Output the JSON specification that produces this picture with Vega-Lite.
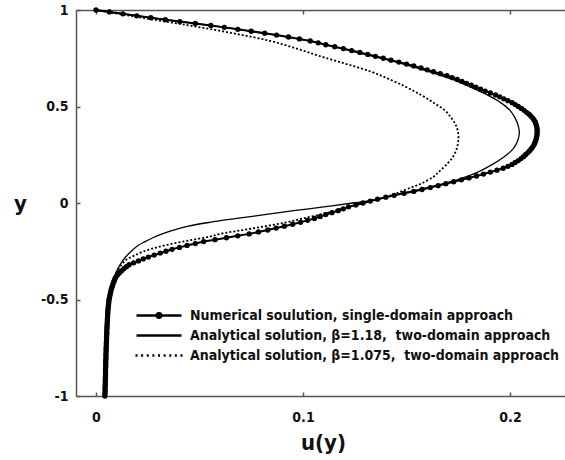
{
  "$schema": "https://vega.github.io/schema/vega-lite/v6.json",
  "width": 490,
  "height": 386,
  "autosize": "none",
  "padding": {"left": 76, "top": 10, "right": 0, "bottom": 64},
  "background": "white",
  "config": {
    "view": {"stroke": null},
    "font": "Liberation Sans Narrow, DejaVu Sans Condensed, sans-serif",
    "axis": {
      "domainColor": "#555555",
      "domainWidth": 1.5,
      "tickColor": "#555555",
      "tickWidth": 1.5,
      "tickSize": -4,
      "grid": false,
      "labelFont": "Liberation Sans Narrow, DejaVu Sans Condensed, sans-serif",
      "labelFontSize": 14,
      "labelFontWeight": "bold",
      "labelColor": "#111111",
      "titleFont": "Liberation Sans Narrow, DejaVu Sans Condensed, sans-serif",
      "titleFontSize": 22,
      "titleFontWeight": "bold",
      "titleColor": "#111111"
    }
  },
  "data": {
    "values": [
      {"s":"N","y":1,"u":0},{"s":"N","y":0.99,"u":0.0065},{"s":"N","y":0.98,"u":0.013},{"s":"N","y":0.97,"u":0.0197},{"s":"N","y":0.96,"u":0.0265},
      {"s":"N","y":0.95,"u":0.0335},{"s":"N","y":0.94,"u":0.0405},{"s":"N","y":0.93,"u":0.048},{"s":"N","y":0.92,"u":0.0555},{"s":"N","y":0.91,"u":0.062},
      {"s":"N","y":0.9,"u":0.0685},{"s":"N","y":0.89,"u":0.075},{"s":"N","y":0.88,"u":0.0815},{"s":"N","y":0.87,"u":0.0872},{"s":"N","y":0.86,"u":0.093},
      {"s":"N","y":0.85,"u":0.0983},{"s":"N","y":0.84,"u":0.1035},{"s":"N","y":0.83,"u":0.1073},{"s":"N","y":0.82,"u":0.111},{"s":"N","y":0.81,"u":0.1153},
      {"s":"N","y":0.8,"u":0.1195},{"s":"N","y":0.79,"u":0.1235},{"s":"N","y":0.78,"u":0.1275},{"s":"N","y":0.77,"u":0.1313},{"s":"N","y":0.76,"u":0.135},
      {"s":"N","y":0.75,"u":0.1388},{"s":"N","y":0.74,"u":0.1425},{"s":"N","y":0.73,"u":0.1463},{"s":"N","y":0.72,"u":0.15},{"s":"N","y":0.71,"u":0.1535},
      {"s":"N","y":0.7,"u":0.157},{"s":"N","y":0.69,"u":0.16},{"s":"N","y":0.68,"u":0.163},{"s":"N","y":0.67,"u":0.1663},{"s":"N","y":0.66,"u":0.1695},
      {"s":"N","y":0.65,"u":0.172},{"s":"N","y":0.64,"u":0.1745},{"s":"N","y":0.63,"u":0.1768},{"s":"N","y":0.62,"u":0.179},{"s":"N","y":0.61,"u":0.1813},
      {"s":"N","y":0.6,"u":0.1835},{"s":"N","y":0.59,"u":0.1858},{"s":"N","y":0.58,"u":0.188},{"s":"N","y":0.57,"u":0.1905},{"s":"N","y":0.56,"u":0.193},
      {"s":"N","y":0.55,"u":0.195},{"s":"N","y":0.54,"u":0.197},{"s":"N","y":0.53,"u":0.199},{"s":"N","y":0.52,"u":0.201},{"s":"N","y":0.51,"u":0.2025},
      {"s":"N","y":0.5,"u":0.204},{"s":"N","y":0.49,"u":0.2055},{"s":"N","y":0.48,"u":0.2068},{"s":"N","y":0.47,"u":0.208},{"s":"N","y":0.46,"u":0.2092},
      {"s":"N","y":0.45,"u":0.2101},{"s":"N","y":0.44,"u":0.211},{"s":"N","y":0.43,"u":0.2116},{"s":"N","y":0.42,"u":0.2122},{"s":"N","y":0.41,"u":0.2125},
      {"s":"N","y":0.4,"u":0.2128},{"s":"N","y":0.39,"u":0.213},{"s":"N","y":0.38,"u":0.2131},{"s":"N","y":0.37,"u":0.2131},{"s":"N","y":0.36,"u":0.2131},
      {"s":"N","y":0.35,"u":0.213},{"s":"N","y":0.34,"u":0.2128},{"s":"N","y":0.33,"u":0.2126},{"s":"N","y":0.32,"u":0.2123},{"s":"N","y":0.31,"u":0.2119},
      {"s":"N","y":0.3,"u":0.2115},{"s":"N","y":0.29,"u":0.2109},{"s":"N","y":0.28,"u":0.2102},{"s":"N","y":0.27,"u":0.2094},{"s":"N","y":0.26,"u":0.2085},
      {"s":"N","y":0.25,"u":0.2075},{"s":"N","y":0.24,"u":0.2065},{"s":"N","y":0.23,"u":0.2053},{"s":"N","y":0.22,"u":0.204},{"s":"N","y":0.21,"u":0.2025},
      {"s":"N","y":0.2,"u":0.201},{"s":"N","y":0.19,"u":0.199},{"s":"N","y":0.18,"u":0.1967},{"s":"N","y":0.17,"u":0.1937},{"s":"N","y":0.16,"u":0.1905},
      {"s":"N","y":0.15,"u":0.1872},{"s":"N","y":0.14,"u":0.1838},{"s":"N","y":0.13,"u":0.1802},{"s":"N","y":0.12,"u":0.1765},{"s":"N","y":0.11,"u":0.1728},
      {"s":"N","y":0.1,"u":0.169},{"s":"N","y":0.09,"u":0.1653},{"s":"N","y":0.08,"u":0.1615},{"s":"N","y":0.07,"u":0.1575},{"s":"N","y":0.06,"u":0.1535},
      {"s":"N","y":0.05,"u":0.1488},{"s":"N","y":0.04,"u":0.144},{"s":"N","y":0.03,"u":0.14},{"s":"N","y":0.02,"u":0.136},{"s":"N","y":0.01,"u":0.1325},
      {"s":"N","y":0,"u":0.129},{"s":"N","y":-0.01,"u":0.1255},{"s":"N","y":-0.02,"u":0.122},{"s":"N","y":-0.03,"u":0.1195},{"s":"N","y":-0.04,"u":0.117},
      {"s":"N","y":-0.05,"u":0.114},{"s":"N","y":-0.06,"u":0.111},{"s":"N","y":-0.07,"u":0.1083},{"s":"N","y":-0.08,"u":0.1055},{"s":"N","y":-0.09,"u":0.1022},
      {"s":"N","y":-0.1,"u":0.0988},{"s":"N","y":-0.11,"u":0.095},{"s":"N","y":-0.12,"u":0.091},{"s":"N","y":-0.13,"u":0.087},{"s":"N","y":-0.14,"u":0.083},
      {"s":"N","y":-0.15,"u":0.0785},{"s":"N","y":-0.16,"u":0.074},{"s":"N","y":-0.17,"u":0.0685},{"s":"N","y":-0.18,"u":0.063},{"s":"N","y":-0.19,"u":0.0575},
      {"s":"N","y":-0.2,"u":0.052},{"s":"N","y":-0.21,"u":0.048},{"s":"N","y":-0.22,"u":0.044},{"s":"N","y":-0.23,"u":0.0403},{"s":"N","y":-0.24,"u":0.0367},
      {"s":"N","y":-0.25,"u":0.0338},{"s":"N","y":-0.26,"u":0.031},{"s":"N","y":-0.27,"u":0.0281},{"s":"N","y":-0.28,"u":0.0253},{"s":"N","y":-0.29,"u":0.0228},
      {"s":"N","y":-0.3,"u":0.0205},{"s":"N","y":-0.31,"u":0.0182},{"s":"N","y":-0.32,"u":0.016},{"s":"N","y":-0.33,"u":0.0147},{"s":"N","y":-0.34,"u":0.0135},
      {"s":"N","y":-0.35,"u":0.0125},{"s":"N","y":-0.36,"u":0.0115},{"s":"N","y":-0.37,"u":0.0106},{"s":"N","y":-0.38,"u":0.0098},{"s":"N","y":-0.39,"u":0.0093},
      {"s":"N","y":-0.4,"u":0.0089},{"s":"N","y":-0.41,"u":0.0085},{"s":"N","y":-0.42,"u":0.0082},{"s":"N","y":-0.43,"u":0.0079},{"s":"N","y":-0.44,"u":0.0076},
      {"s":"N","y":-0.45,"u":0.0073},{"s":"N","y":-0.46,"u":0.0071},{"s":"N","y":-0.47,"u":0.0069},{"s":"N","y":-0.48,"u":0.0067},{"s":"N","y":-0.49,"u":0.0065},
      {"s":"N","y":-0.5,"u":0.0063},{"s":"N","y":-0.51,"u":0.0062},{"s":"N","y":-0.52,"u":0.0061},{"s":"N","y":-0.53,"u":0.006},{"s":"N","y":-0.54,"u":0.0059},
      {"s":"N","y":-0.55,"u":0.0058},{"s":"N","y":-0.56,"u":0.0057},{"s":"N","y":-0.57,"u":0.0057},{"s":"N","y":-0.58,"u":0.0056},{"s":"N","y":-0.59,"u":0.0056},
      {"s":"N","y":-0.6,"u":0.0055},{"s":"N","y":-0.61,"u":0.0055},{"s":"N","y":-0.62,"u":0.0054},{"s":"N","y":-0.63,"u":0.0054},{"s":"N","y":-0.64,"u":0.0053},
      {"s":"N","y":-0.65,"u":0.0053},{"s":"N","y":-0.66,"u":0.0052},{"s":"N","y":-0.67,"u":0.0052},{"s":"N","y":-0.68,"u":0.0052},{"s":"N","y":-0.69,"u":0.0051},
      {"s":"N","y":-0.7,"u":0.0051},{"s":"N","y":-0.71,"u":0.0051},{"s":"N","y":-0.72,"u":0.005},{"s":"N","y":-0.73,"u":0.005},{"s":"N","y":-0.74,"u":0.005},
      {"s":"N","y":-0.75,"u":0.0049},{"s":"N","y":-0.76,"u":0.0049},{"s":"N","y":-0.77,"u":0.0049},{"s":"N","y":-0.78,"u":0.0048},{"s":"N","y":-0.79,"u":0.0048},
      {"s":"N","y":-0.8,"u":0.0048},{"s":"N","y":-0.81,"u":0.0048},{"s":"N","y":-0.82,"u":0.0047},{"s":"N","y":-0.83,"u":0.0047},{"s":"N","y":-0.84,"u":0.0047},
      {"s":"N","y":-0.85,"u":0.0047},{"s":"N","y":-0.86,"u":0.0046},{"s":"N","y":-0.87,"u":0.0046},{"s":"N","y":-0.88,"u":0.0046},{"s":"N","y":-0.89,"u":0.0046},
      {"s":"N","y":-0.9,"u":0.0046},{"s":"N","y":-0.91,"u":0.0045},{"s":"N","y":-0.92,"u":0.0045},{"s":"N","y":-0.93,"u":0.0045},{"s":"N","y":-0.94,"u":0.0045},
      {"s":"N","y":-0.95,"u":0.0044},{"s":"N","y":-0.96,"u":0.0044},{"s":"N","y":-0.97,"u":0.0044},{"s":"N","y":-0.98,"u":0.0044},{"s":"N","y":-0.99,"u":0.0043},
      {"s":"N","y":-1,"u":0.0043},

      {"s":"A","y":1,"u":0},{"s":"A","y":0.96,"u":0.0262},{"s":"A","y":0.92,"u":0.055},{"s":"A","y":0.88,"u":0.0808},{"s":"A","y":0.84,"u":0.1025},
      {"s":"A","y":0.8,"u":0.1185},{"s":"A","y":0.76,"u":0.1338},{"s":"A","y":0.72,"u":0.1485},{"s":"A","y":0.68,"u":0.1612},{"s":"A","y":0.64,"u":0.1722},
      {"s":"A","y":0.6,"u":0.181},{"s":"A","y":0.56,"u":0.189},{"s":"A","y":0.52,"u":0.1955},{"s":"A","y":0.48,"u":0.2},{"s":"A","y":0.44,"u":0.2025},
      {"s":"A","y":0.4,"u":0.204},{"s":"A","y":0.36,"u":0.2045},{"s":"A","y":0.32,"u":0.2036},{"s":"A","y":0.28,"u":0.2015},{"s":"A","y":0.24,"u":0.1972},
      {"s":"A","y":0.2,"u":0.1915},{"s":"A","y":0.16,"u":0.1845},{"s":"A","y":0.12,"u":0.1745},{"s":"A","y":0.08,"u":0.16},{"s":"A","y":0.04,"u":0.144},
      {"s":"A","y":0.016,"u":0.135},{"s":"A","y":0,"u":0.124},{"s":"A","y":-0.02,"u":0.11},{"s":"A","y":-0.04,"u":0.0955},{"s":"A","y":-0.06,"u":0.0815},
      {"s":"A","y":-0.08,"u":0.068},{"s":"A","y":-0.1,"u":0.055},{"s":"A","y":-0.12,"u":0.0445},{"s":"A","y":-0.14,"u":0.0375},{"s":"A","y":-0.16,"u":0.032},
      {"s":"A","y":-0.18,"u":0.0275},{"s":"A","y":-0.2,"u":0.0237},{"s":"A","y":-0.22,"u":0.0203},{"s":"A","y":-0.25,"u":0.017},{"s":"A","y":-0.28,"u":0.0143},
      {"s":"A","y":-0.31,"u":0.0122},{"s":"A","y":-0.34,"u":0.0106},{"s":"A","y":-0.38,"u":0.009},{"s":"A","y":-0.42,"u":0.0078},{"s":"A","y":-0.46,"u":0.0069},
      {"s":"A","y":-0.5,"u":0.0062},{"s":"A","y":-0.6,"u":0.0054},{"s":"A","y":-0.7,"u":0.005},{"s":"A","y":-0.8,"u":0.0047},{"s":"A","y":-0.9,"u":0.0045},
      {"s":"A","y":-1,"u":0.0043},

      {"s":"B","y":1,"u":0},{"s":"B","y":0.96,"u":0.022},{"s":"B","y":0.92,"u":0.045},{"s":"B","y":0.88,"u":0.066},{"s":"B","y":0.84,"u":0.084},
      {"s":"B","y":0.8,"u":0.097},{"s":"B","y":0.76,"u":0.1085},{"s":"B","y":0.72,"u":0.121},{"s":"B","y":0.68,"u":0.133},{"s":"B","y":0.64,"u":0.142},
      {"s":"B","y":0.6,"u":0.15},{"s":"B","y":0.56,"u":0.157},{"s":"B","y":0.52,"u":0.163},{"s":"B","y":0.48,"u":0.1685},{"s":"B","y":0.44,"u":0.1717},
      {"s":"B","y":0.4,"u":0.174},{"s":"B","y":0.36,"u":0.175},{"s":"B","y":0.32,"u":0.175},{"s":"B","y":0.28,"u":0.1742},{"s":"B","y":0.24,"u":0.1725},
      {"s":"B","y":0.207,"u":0.17},{"s":"B","y":0.16,"u":0.1655},{"s":"B","y":0.136,"u":0.163},{"s":"B","y":0.1,"u":0.157},{"s":"B","y":0.078,"u":0.1517},
      {"s":"B","y":0.05,"u":0.145},{"s":"B","y":0.033,"u":0.1406},{"s":"B","y":0.007,"u":0.132},{"s":"B","y":-0.02,"u":0.122},{"s":"B","y":-0.05,"u":0.112},
      {"s":"B","y":-0.08,"u":0.1},{"s":"B","y":-0.1,"u":0.092},{"s":"B","y":-0.12,"u":0.082},{"s":"B","y":-0.14,"u":0.071},{"s":"B","y":-0.16,"u":0.06},
      {"s":"B","y":-0.175,"u":0.0546},{"s":"B","y":-0.19,"u":0.047},{"s":"B","y":-0.207,"u":0.0387},{"s":"B","y":-0.228,"u":0.03},{"s":"B","y":-0.252,"u":0.0227},
      {"s":"B","y":-0.275,"u":0.018},{"s":"B","y":-0.295,"u":0.0145},{"s":"B","y":-0.325,"u":0.012},{"s":"B","y":-0.356,"u":0.01},{"s":"B","y":-0.4,"u":0.0085},
      {"s":"B","y":-0.434,"u":0.0076},{"s":"B","y":-0.48,"u":0.0068},{"s":"B","y":-0.55,"u":0.0059},{"s":"B","y":-0.65,"u":0.0053},{"s":"B","y":-0.8,"u":0.0048},
      {"s":"B","y":-1,"u":0.0043}
    ]
  },
  "encoding": {
    "x": {"field": "u", "type": "quantitative", "scale": {"domain": [-0.00966, 0.22705], "nice": false, "zero": false}},
    "y": {"field": "y", "type": "quantitative", "scale": {"domain": [-1, 1], "nice": false, "zero": false},
      "axis": {"orient": "left", "values": [-1, -0.5, 0, 0.5, 1], "labelExpr": "replace(format(datum.value, '~g'), '\u2212', '-')", "labelPadding": 12, "title": "y", "titleAngle": 0, "titleX": -56, "titleY": 193, "titleAlign": "center", "titleBaseline": "middle", "titleFontSize": 22}},
    "order": {"field": "y", "type": "quantitative"}
  },
  "resolve": {"axis": {"x": "independent"}},
  "layer": [
    {
      "transform": [{"filter": "datum.y == 1"}],
      "mark": {"type": "point", "filled": false, "color": "black", "opacity": 0, "strokeWidth": 2.5},
      "encoding": {
        "x": {"field": "u", "type": "quantitative", "axis": null},
        "shape": {"field": "s", "type": "nominal",
          "scale": {"domain": ["N", "A", "B"], "range": [
            "M-2.25,0L2.25,0M-0.22,0A0.22,0.22 0 1 0 0.22,0A0.22,0.22 0 1 0 -0.22,0Z",
            "M-2.25,0L2.25,0",
            "M-2.35,0l0.2,0M-1.7875,0l0.2,0M-1.225,0l0.2,0M-0.6625,0l0.2,0M-0.1,0l0.2,0M0.4625,0l0.2,0M1.025,0l0.2,0M1.5875,0l0.2,0M2.15,0l0.2,0"
          ]},
          "legend": {
            "orient": "none", "legendX": 71.5, "legendY": 294, "title": null,
            "symbolSize": 400, "symbolStrokeColor": "black", "symbolStrokeWidth": 2.5, "symbolOpacity": 1,
            "labelFont": "Liberation Sans Narrow, DejaVu Sans Condensed, sans-serif", "labelFontSize": 14, "labelFontWeight": "bold", "labelColor": "#111111",
            "labelOffset": 19.5, "rowPadding": 1, "labelLimit": 500,
            "labelExpr": "datum.value == 'N' ? 'Numerical soulution, single-domain approach' : datum.value == 'A' ? 'Analytical solution, \u03b2=1.18, \u00a0two-domain approach' : 'Analytical solution, \u03b2=1.075, \u00a0two-domain approach'",
            "encode": {"symbols": {"update": {
              "stroke": {"value": "black"}, "strokeWidth": {"value": 2.5},
              "opacity": {"value": 1}, "strokeOpacity": {"value": 1}
            }}}
          }
        }
      }
    },
    {
      "transform": [{"filter": "datum.s == 'N'"}],
      "mark": {"type": "line", "color": "black", "strokeWidth": 2},
      "encoding": {
        "x": {"field": "u", "type": "quantitative",
          "axis": {"orient": "bottom", "values": [0, 0.1, 0.2], "labelExpr": "format(datum.value, '~g')", "labelPadding": 18, "title": "u(y)", "titleX": 247, "titleY": 46, "titleBaseline": "middle", "titleAlign": "center"}}
      }
    },
    {
      "transform": [{"filter": "datum.s == 'N'"}],
      "mark": {"type": "point", "filled": true, "color": "black", "size": 28, "opacity": 1},
      "encoding": {"x": {"field": "u", "type": "quantitative", "axis": null}}
    },
    {
      "transform": [{"filter": "datum.s == 'A'"}],
      "mark": {"type": "line", "color": "black", "strokeWidth": 1.3, "interpolate": "catmull-rom"},
      "encoding": {"x": {"field": "u", "type": "quantitative", "axis": null}}
    },
    {
      "transform": [{"filter": "datum.s == 'B'"}],
      "mark": {"type": "line", "color": "black", "strokeWidth": 1.8, "strokeDash": [2, 2], "interpolate": "catmull-rom"},
      "encoding": {
        "x": {"field": "u", "type": "quantitative",
          "axis": {"orient": "top", "values": [0, 0.1, 0.2], "labels": false, "title": null}}
      }
    }
  ]
}
